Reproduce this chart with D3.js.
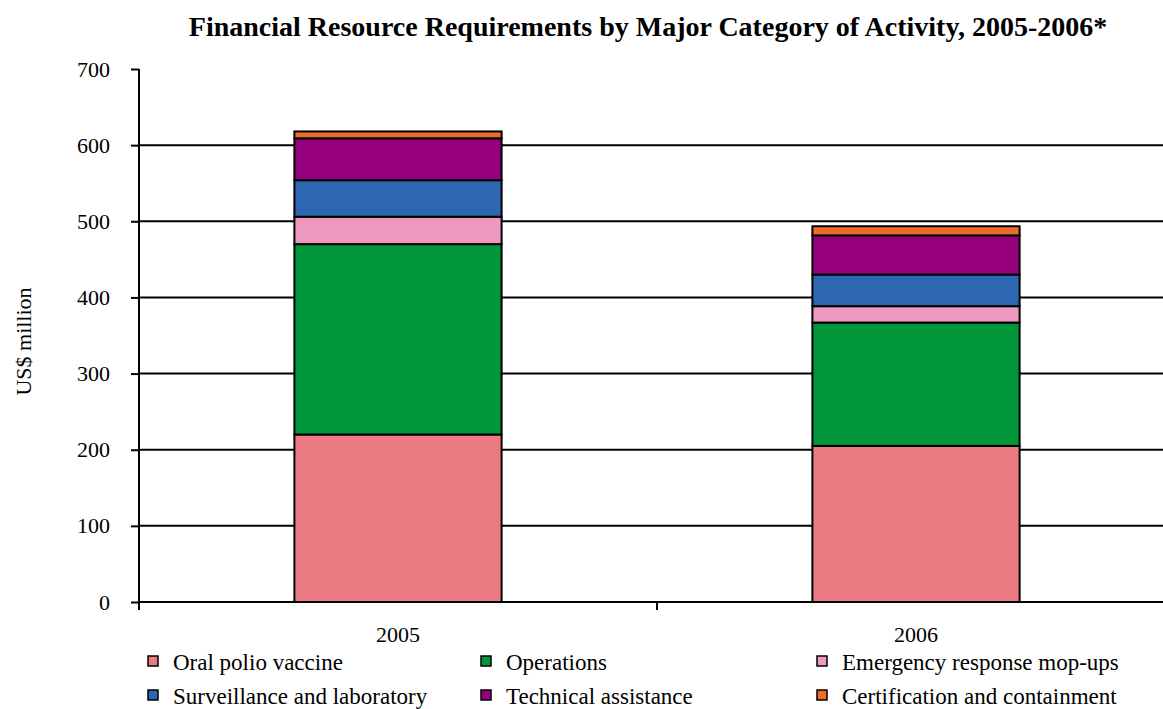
<!DOCTYPE html>
<html>
<head>
<meta charset="utf-8">
<script src="https://cdn.jsdelivr.net/npm/d3@7"></script>
<style>
body{margin:0;background:#fff;}
text{font-family:"Liberation Serif","DejaVu Serif",serif;fill:#000;}
</style>
</head>
<body>
<div id="chart"></div>
<script>
var years=["2005","2006"];
var categories=["Oral polio vaccine","Operations","Emergency response mop-ups","Surveillance and laboratory","Technical assistance","Certification and containment"];
var colors=["#EC7A82","#009639","#EE98BF","#2E67B1","#96007D","#EE6B2A"];
var values2005=[220,250,36,48,55,9];
var values2006=[205,162,21.5,41.5,51.5,12];
var yTicks=[0,100,200,300,400,500,600,700];

var w=1163,h=709;
var pad={top:69,bottom:107,left:139,right:-12};

var svg=d3.select("#chart").append("svg").attr("width",w).attr("height",h);

//build rows for stacking
var rows=years.map(function(y,i){
    var vals=i==0?values2005:values2006;
    var r={year:y};
    categories.forEach(function(c,j){r[c]=vals[j];});
    return r;
});
var stacked=d3.stack().keys(categories)(rows);

var x=d3.scaleBand().domain(years).range([pad.left,w-pad.right]).paddingInner(0).paddingOuter(0);
var y=d3.scaleLinear().domain([0,700]).range([h-pad.bottom,pad.top]);
var barW=x.bandwidth()*0.4;

//title
svg.append("text")
   .attr("x",648).attr("y",36)
   .attr("text-anchor","middle")
   .attr("font-size","28px").attr("font-weight","bold")
   .text("Financial Resource Requirements by Major Category of Activity, 2005-2006*");

//gridlines
svg.append("g").selectAll("line")
   .data(yTicks.filter(function(d){return d>0 && d<700;}))
   .enter().append("line")
   .attr("x1",pad.left).attr("x2",w)
   .attr("y1",function(d){return y(d);}).attr("y2",function(d){return y(d);})
   .attr("stroke","#000").attr("stroke-width",2);

//y-axis
var yAxis=d3.axisLeft(y).tickValues(yTicks).tickSize(8).tickPadding(21);
var gy=svg.append("g").attr("transform","translate("+pad.left+",0)").call(yAxis);
gy.select(".domain").attr("stroke","#000").attr("stroke-width",2).attr("d","M0,"+y(700)+"V"+y(0));
gy.selectAll(".tick line").attr("stroke-width",2);
gy.selectAll(".tick text").attr("font-size","22px");

//y label
svg.append("text")
   .attr("transform","translate(31,"+(y(350)+6)+")rotate(-90)")
   .attr("text-anchor","middle").attr("font-size","22px")
   .text("US$ million");

//bars
svg.append("g").selectAll("g")
   .data(stacked).enter().append("g")
   .attr("fill",function(d,i){return colors[i];})
   .selectAll("rect").data(function(d){return d;})
   .enter().append("rect")
   .attr("x",function(d){return x(d.data.year)+(x.bandwidth()-barW)/2;})
   .attr("y",function(d){return y(d[1]);})
   .attr("width",barW)
   .attr("height",function(d){return y(d[0])-y(d[1]);})
   .attr("stroke","#000").attr("stroke-width",2);

//x-axis
svg.append("line")
   .attr("x1",pad.left).attr("x2",w)
   .attr("y1",y(0)).attr("y2",y(0))
   .attr("stroke","#000").attr("stroke-width",2);
svg.append("g").selectAll("line")
   .data([x(years[0]),x(years[1])])
   .enter().append("line")
   .attr("x1",function(d){return d;}).attr("x2",function(d){return d;})
   .attr("y1",y(0)).attr("y2",y(0)+8)
   .attr("stroke","#000").attr("stroke-width",2);
svg.append("g").selectAll("text")
   .data(years).enter().append("text")
   .attr("x",function(d){return x(d)+x.bandwidth()/2;})
   .attr("y",y(0)+40)
   .attr("text-anchor","middle").attr("font-size","22px")
   .text(function(d){return d;});

//legend
var legX=[148,481,817],legY=[662,696];
var leg=svg.append("g").selectAll("g")
   .data(categories).enter().append("g")
   .attr("transform",function(d,i){return "translate("+legX[i%3]+","+legY[Math.floor(i/3)]+")";});
leg.append("rect")
   .attr("x",0).attr("y",-6).attr("width",10).attr("height",10)
   .attr("fill",function(d,i){return colors[i];})
   .attr("stroke","#000").attr("stroke-width",1.5);
leg.append("text")
   .attr("x",25).attr("y",0)
   .attr("dominant-baseline","central")
   .attr("font-size","23px")
   .text(function(d){return d;});
</script>
</body>
</html>
